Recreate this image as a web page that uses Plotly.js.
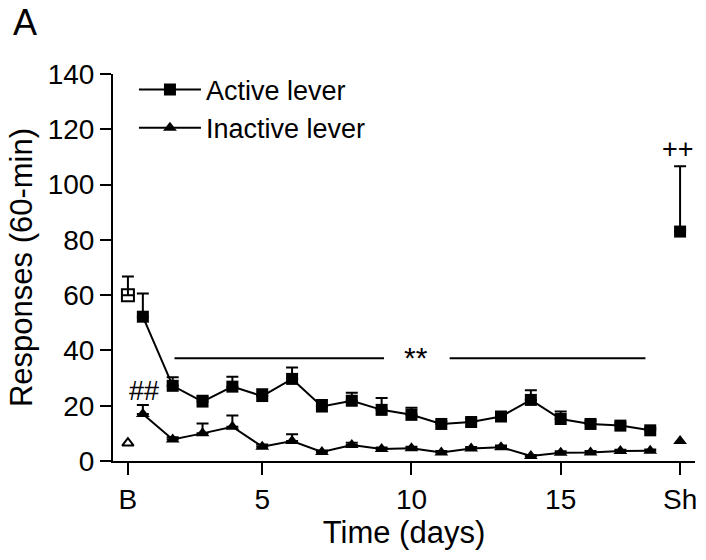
<!DOCTYPE html>
<html>
<head>
<meta charset="utf-8">
<script src="https://cdn.plot.ly/plotly-3.0.1.min.js"></script>
<style>html,body{margin:0;padding:0;background:#fff;}</style>
</head>
<body>
<div id="chart" style="width:706px;height:560px;"></div>
<script>
// ---- data ----
const days = [1,2,3,4,5,6,7,8,9,10,11,12,13,14,15,16,17,18];
const activeLever = [52.2,27.2,21.5,26.9,23.5,29.7,19.7,21.8,18.5,16.7,13.4,14.1,16.1,22.1,15.2,13.4,12.8,11.1];
const activeErr   = [8.4,3.1,2.1,3.6,2.5,4.1,2.4,2.9,4.3,2.6,1.0,1.2,1.5,3.5,2.7,1.2,1.0,0.8];
const inactiveLever = [17.0,7.8,10.0,12.4,5.2,7.2,3.3,5.8,4.3,4.6,3.1,4.5,5.0,1.8,3.0,3.1,3.6,3.7];
const inactiveErr   = [3.3,0.8,3.6,4.1,0.8,2.5,0.5,0.8,0.6,0.6,0.5,0.6,0.6,0.4,0.5,0.5,0.5,0.5];
const baselineX = [0.5];
const baselineActive = [60];
const baselineActiveErr = [6.7];
const baselineInactive = [6.5];
const shamX = [19];
const shamActive = [83];
const shamActiveErr = [23.6];
const shamInactive = [7.2];
const tickVals = [0.5,5,10,15,19];
const tickText = ['B','5','10','15','Sh'];

const FONT = 'Liberation Sans, Arial, sans-serif';
const zeros = a => a.map(() => 0);
const eb = (arr) => ({type:'data', symmetric:false, array:arr, arrayminus:zeros(arr), color:'#000', thickness:2, width:6});

const traces = [
  {x: days, y: activeLever, name:'Active lever', mode:'lines+markers',
   line:{color:'#000', width:2}, marker:{symbol:'square', size:12, color:'#000'},
   error_y: eb(activeErr), cliponaxis:false},
  {x: days, y: inactiveLever, name:'Inactive lever', mode:'lines+markers',
   line:{color:'#000', width:2}, marker:{symbol:'triangle-up', size:12, color:'#000'},
   error_y: eb(inactiveErr), cliponaxis:false},
  {x: baselineX, y: baselineActive, mode:'markers', showlegend:false,
   marker:{symbol:'square-open', size:12, color:'#000', line:{width:2}},
   error_y: eb(baselineActiveErr), cliponaxis:false},
  {x: baselineX, y: baselineInactive, mode:'markers', showlegend:false,
   marker:{symbol:'triangle-up-open', size:10, color:'#000', line:{width:2}}, cliponaxis:false},
  {x: shamX, y: shamActive, mode:'markers', showlegend:false,
   marker:{symbol:'square', size:12, color:'#000'},
   error_y: eb(shamActiveErr), cliponaxis:false},
  {x: shamX, y: shamInactive, mode:'markers', showlegend:false,
   marker:{symbol:'triangle-up', size:12, color:'#000'}, cliponaxis:false}
];

const layout = {
  width:706, height:560,
  margin:{l:113, r:11, t:74, b:99},
  paper_bgcolor:'#fff', plot_bgcolor:'#fff',
  font:{family:FONT, color:'#000', size:28},
  showlegend:true,
  legend:{x:0.036, y:1.022, xanchor:'left', yanchor:'top', bgcolor:'rgba(0,0,0,0)',
          font:{family:FONT, size:27, color:'#000'}, itemwidth:62, tracegroupgap:0},
  xaxis:{range:[0,19.5], showgrid:false, zeroline:false, showline:true, linewidth:2, linecolor:'#000',
         ticks:'outside', ticklen:12, tickwidth:2, tickcolor:'#000',
         tickmode:'array', tickvals:tickVals, ticktext:tickText,
         tickfont:{family:FONT, size:28},
         title:{text:'Time (days)', font:{family:FONT, size:31}, standoff:8}},
  yaxis:{range:[0,140], dtick:20, showgrid:false, zeroline:false, showline:true, linewidth:2, linecolor:'#000',
         ticks:'outside', ticklen:11, tickwidth:2, tickcolor:'#000',
         tickfont:{family:FONT, size:28},
         title:{text:'Responses (60-min)', font:{family:FONT, size:31}, standoff:6}},
  shapes:[
    {type:'line', xref:'x', yref:'y', x0:2.06, x1:9.08, y0:37.2, y1:37.2, line:{color:'#000', width:2}},
    {type:'line', xref:'x', yref:'y', x0:11.28, x1:17.84, y0:37.2, y1:37.2, line:{color:'#000', width:2}}
  ],
  annotations:[
    {x:10.16, y:37.4, xref:'x', yref:'y', text:'**', showarrow:false, font:{family:FONT, size:30}},
    {x:1.05, y:25.3, xref:'x', yref:'y', text:'##', showarrow:false, font:{family:FONT, size:27}},
    {x:18.92, y:113, xref:'x', yref:'y', text:'++', showarrow:false, font:{family:FONT, size:27}},
    {x:-0.175, y:1.19, xref:'paper', yref:'paper', xanchor:'left', yanchor:'top', text:'A', showarrow:false, font:{family:FONT, size:36}}
  ]
};

Plotly.newPlot('chart', traces, layout, {displayModeBar:false, staticPlot:true});
</script>
</body>
</html>
